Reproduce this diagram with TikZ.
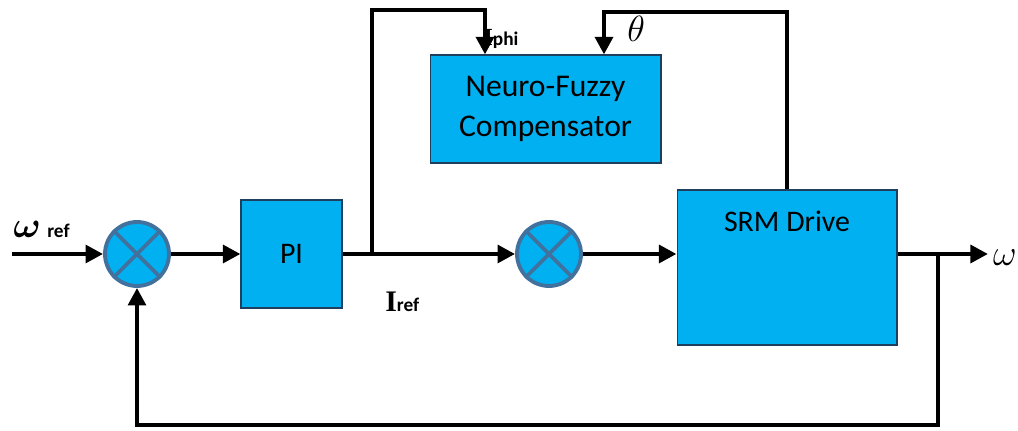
\documentclass[tikz,border=0pt]{standalone}
\usepackage{fontspec}
\setmainfont{Carlito}
\newfontfamily\serifI{Liberation Serif}
\usepackage{amsmath}
\usepackage{xcolor}
\definecolor{blkFill}{HTML}{00B0F0}
\definecolor{sumEdge}{HTML}{41719C}
\definecolor{boxEdge}{HTML}{1F3F5F}
\usetikzlibrary{arrows.meta}

\tikzset{
  blockbox/.style={draw=boxEdge, fill=blkFill, line width=0.6pt, inner sep=0pt},
  sumnode/.style={circle, draw=sumEdge, fill=blkFill, line width=2.2pt, minimum size=1.28cm, inner sep=0pt},
  sig/.style={line width=2.8pt, -{Triangle[length=10pt,width=10pt]}},
  lbl/.style={inner sep=0pt}
}

\begin{document}
\begin{tikzpicture}[x=0.02cm, y=-0.02cm]
  \useasboundingbox (0,0) rectangle (1018,431);
  % blocks
  \node[sumnode] (sum1) at (137,254) {};
  \node[sumnode] (sum2) at (549,254) {};
  \foreach \s in {sum1,sum2} {
    \draw[sumEdge, line width=2.2pt] (\s.north west) -- (\s.south east);
    \draw[sumEdge, line width=2.2pt] (\s.north east) -- (\s.south west);
  }
  \node[blockbox, minimum width=2.02cm, minimum height=2.16cm, font=\fontsize{17}{19}\selectfont] (pi) at (291.5,254) {PI};
  \node[blockbox, minimum width=4.62cm, minimum height=2.16cm, align=center, font=\fontsize{18}{23}\selectfont] (nf) at (545.5,109) {Neuro-Fuzzy\\Compensator};
  \node[blockbox, minimum width=4.4cm, minimum height=3.1cm] (srm) at (787,267.5) {};
  \node[lbl, font=\fontsize{17}{19}\selectfont] (srmtxt) at (787,221) {SRM Drive};
  % labels
  \node[lbl, anchor=base west] (wref) at (13,238) {\fontsize{22}{22}\selectfont$\boldsymbol{\omega}$\,\textbf{\fontsize{11}{11}\selectfont ref}};
  \node[lbl, anchor=base west] (iref) at (385,312) {\fontsize{17}{17}\selectfont\serifI\textbf{I}\textbf{\fontsize{11}{11}\selectfont\rmfamily ref}};
  \node[lbl, anchor=base west] (iphi) at (483,46) {\fontsize{14}{14}\selectfont\serifI\textbf{I}\textbf{\fontsize{11}{11}\selectfont\rmfamily phi}};
  \node[lbl, anchor=base west] (th) at (627,42) {\fontsize{20}{20}\selectfont$\theta$};
  \node[lbl, anchor=base east] (wout) at (1017,266) {\fontsize{20}{20}\selectfont$\omega$};
  % signal path
  \coordinate (inp) at (12,254);
  \coordinate (br) at (372,254);
  \coordinate (phitop) at (485,10);
  \coordinate (thtop) at (604,12);
  \coordinate (fb) at (938,254);
  \coordinate (out) at (988,254);
  \draw[sig] (inp) -- (sum1);
  \draw[sig] (sum1) -- (pi);
  \draw[sig] (pi) -- (sum2);
  \draw[sig] (br) |- (phitop) -- (phitop |- nf.north);
  \draw[sig] (srm.north) |- (thtop) -- (thtop |- nf.north);
  \draw[sig] (sum2) -- (sum2 -| srm.west);
  \draw[sig] (sum2 -| srm.east) -- (out);
  \draw[sig] (fb) -- ++(0,171) -| (sum1.south);
\end{tikzpicture}
\end{document}
